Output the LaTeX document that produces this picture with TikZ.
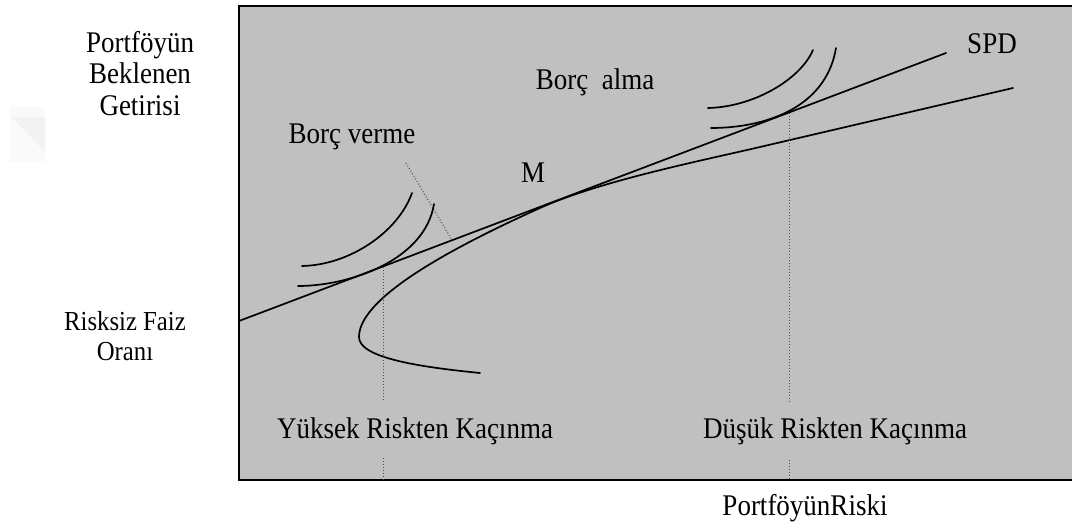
\documentclass[tikz,border=0pt]{standalone}
\usepackage{fontspec}
\setmainfont{Liberation Serif}
\definecolor{panel}{RGB}{192,192,192}
\newcommand{\nar}[1]{\scalebox{0.9}[1]{#1}}
\begin{document}
\begin{tikzpicture}[x=1pt,y=-1pt,
  lbl/.style={inner sep=0pt, anchor=base, font=\fontsize{30}{36}\selectfont},
  slbl/.style={inner sep=0pt, anchor=base, font=\fontsize{27.5}{33}\selectfont},
  curve/.style={line width=1.7pt, line cap=round},
  guide/.style={line width=1pt, dotted, black!70}]
\useasboundingbox (0,0) rectangle (1072,525);
\clip (0,0) rectangle (1072,525);
% faint page mark
\fill[black!2] (10,107) rectangle (45,162);
\fill[black!5] (12,117) -- (45,117) -- (45,152) -- cycle;
% panel
\draw[fill=panel, line width=2.6pt] (239,6) rectangle (1090,480);
% axis labels
\node[lbl] (p1) at (140,52) {\nar{Portföyün}};
\node[lbl] (p2) at (140,83) {\nar{Beklenen}};
\node[lbl] (p3) at (140,115) {\nar{Getirisi}};
\node[slbl] (r1) at (125,330) {\nar{Risksiz Faiz}};
\node[slbl] (r2) at (125,360) {\nar{Oranı}};
\node[lbl] (xr) at (805,515) {\nar{PortföyünRiski}};
% inside labels
\node[lbl] (bv) at (352,143) {\nar{Borç verme}};
\node[lbl] (ba) at (595,89) {\nar{Borç\ \ alma}};
\node[lbl] (m) at (533,182) {\nar{M}};
\node[lbl] (spdl) at (992,53) {\nar{SPD}};
\node[lbl] (yk) at (415,438) {\nar{Yüksek Riskten Kaçınma}};
\node[lbl] (dk) at (835,438) {\nar{Düşük Riskten Kaçınma}};
% capital market line
\coordinate (rf) at (239,321);
\coordinate (spd) at (946,53);
\draw[curve] (rf) -- (spd);
% efficient frontier with borrowing line
\coordinate (f0) at (480,373);
\coordinate (nose) at (359,337);
\coordinate (fm) at (540,208);
\coordinate (f3) at (760,147);
\coordinate (f4) at (1013,88);
\draw[curve] (f0) .. controls (420,367) and (359,358) .. (nose)
  .. controls (359,305) and (420,262) .. (fm)
  .. controls (600,181) and (700,161) .. (f3) -- (f4);
% high risk aversion indifference curves
\coordinate (a0) at (302,266);
\coordinate (a1) at (412,193);
\draw[curve] (a0) .. controls (350,265) and (398,232) .. (a1);
\coordinate (b0) at (298,286);
\coordinate (b1) at (434,204);
\draw[curve] (b0) .. controls (350,286) and (425,260) .. (b1);
% low risk aversion indifference curves
\coordinate (c0) at (708,108);
\coordinate (c1) at (813,50);
\draw[curve] (c0) .. controls (753,107) and (800,80) .. (c1);
\coordinate (d0) at (711,128);
\coordinate (d1) at (836,48);
\draw[curve] (d0) .. controls (765,128) and (826,108) .. (d1);
% dotted guides
\coordinate (t1) at (383,267);
\coordinate (t1a) at (383,402);
\coordinate (t1b) at (383,458);
\coordinate (t1c) at (383,480);
\draw[guide] (t1) -- (t1a);
\draw[guide] (t1b) -- (t1c);
\coordinate (t2) at (789,113);
\coordinate (t2a) at (789,402);
\coordinate (t2b) at (789,460);
\coordinate (t2c) at (789,480);
\draw[guide] (t2) -- (t2a);
\draw[guide] (t2b) -- (t2c);
\coordinate (bvp) at (406,163);
\coordinate (bve) at (452,240);
\draw[guide] (bvp) -- (bve);
\end{tikzpicture}
\end{document}
